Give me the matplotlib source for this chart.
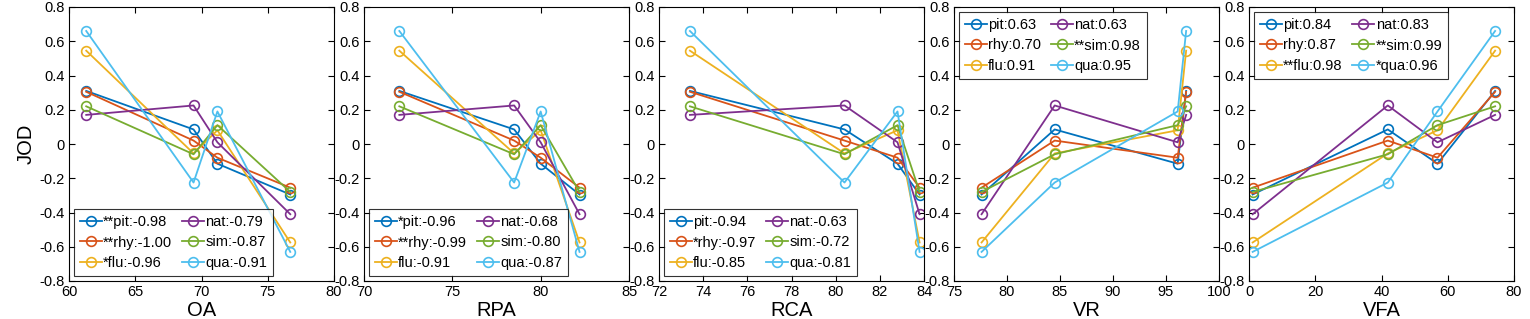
import matplotlib
matplotlib.use("Agg")
import matplotlib.pyplot as plt

plt.rcParams["font.family"] = ["Liberation Sans", "DejaVu Sans"]
plt.rcParams["axes.unicode_minus"] = False

# JOD score of each method (A, B, C, D) for every attribute
attributes = ["pit", "rhy", "flu", "nat", "sim", "qua"]
colours = ["#0072BD", "#D95319", "#EDB120", "#7E2F8E", "#77AC30", "#4DBEEE"]
jod_pit = [0.31, 0.085, -0.115, -0.295]
jod_rhy = [0.305, 0.02, -0.08, -0.255]
jod_flu = [0.545, -0.055, 0.08, -0.575]
jod_nat = [0.17, 0.225, 0.01, -0.41]
jod_sim = [0.22, -0.06, 0.11, -0.28]
jod_qua = [0.66, -0.225, 0.19, -0.63]
jod = [jod_pit, jod_rhy, jod_flu, jod_nat, jod_sim, jod_qua]

# objective metric of each method
metrics = ["OA", "RPA", "RCA", "VR", "VFA"]
x_oa = [61.3, 69.4, 71.2, 76.7]
x_rpa = [72.0, 78.5, 80.0, 82.2]
x_rca = [73.4, 80.4, 82.8, 83.8]
x_vr = [96.9, 84.5, 96.1, 77.6]
x_vfa = [74.3, 41.9, 56.9, 1.1]
metric_x = [x_oa, x_rpa, x_rca, x_vr, x_vfa]

# legend text per panel (significance stars + correlation)
labels_oa = ["**pit:-0.98", "**rhy:-1.00", "*flu:-0.96", "nat:-0.79", "sim:-0.87", "qua:-0.91"]
labels_rpa = ["*pit:-0.96", "**rhy:-0.99", "flu:-0.91", "nat:-0.68", "sim:-0.80", "qua:-0.87"]
labels_rca = ["pit:-0.94", "*rhy:-0.97", "flu:-0.85", "nat:-0.63", "sim:-0.72", "qua:-0.81"]
labels_vr = ["pit:0.63", "rhy:0.70", "flu:0.91", "nat:0.63", "**sim:0.98", "qua:0.95"]
labels_vfa = ["pit:0.84", "rhy:0.87", "**flu:0.98", "nat:0.83", "**sim:0.99", "*qua:0.96"]
panel_labels = [labels_oa, labels_rpa, labels_rca, labels_vr, labels_vfa]

xlims = [(60, 80), (70, 85), (72, 84), (75, 100), (0, 80)]
xticks = [[60, 65, 70, 75, 80], [70, 75, 80, 85], [72, 74, 76, 78, 80, 82, 84],
          [75, 80, 85, 90, 95, 100], [0, 20, 40, 60, 80]]
legend_loc = ["lower left", "lower left", "lower left", "upper left", "upper left"]
yticks = [-0.8, -0.6, -0.4, -0.2, 0, 0.2, 0.4, 0.6, 0.8]
ytick_labels = ["-0.8", "-0.6", "-0.4", "-0.2", "0", "0.2", "0.4", "0.6", "0.8"]

W, H = 1530, 319
fig = plt.figure(figsize=(W / 100, H / 100), dpi=100)
lefts = [69, 364, 659, 954, 1249]
ax_w, ax_top, ax_bot = 265, 7, 281

for i, metric in enumerate(metrics):
    ax = fig.add_axes([lefts[i] / W, 1 - ax_bot / H, ax_w / W, (ax_bot - ax_top) / H])
    xs = metric_x[i]
    order = sorted(range(len(xs)), key=lambda k: xs[k])
    for vals, col, lab in zip(jod, colours, panel_labels[i]):
        ax.plot([xs[k] for k in order], [vals[k] for k in order], color=col,
                linewidth=1.3, marker="o", markersize=7, markerfacecolor="none",
                markeredgewidth=1.2, label=lab)
    ax.set_xlim(*xlims[i])
    ax.set_ylim(-0.8, 0.8)
    ax.set_xticks(xticks[i])
    ax.set_yticks(yticks)
    ax.set_yticklabels(ytick_labels)
    ax.tick_params(direction="in", top=True, right=True, labelsize=10.5, length=4, pad=3)
    ax.set_xlabel(metric, fontsize=14.5, labelpad=1)
    if i == 0:
        ax.set_ylabel("JOD", fontsize=14.5, labelpad=3)
    leg = ax.legend(loc=legend_loc[i], ncol=2, fontsize=10.5, frameon=True, fancybox=False,
                    handlelength=1.5, handletextpad=0.1, columnspacing=0.65,
                    labelspacing=0.45, borderpad=0.4, borderaxespad=0.35)
    leg.get_frame().set_edgecolor("black")
    leg.get_frame().set_linewidth(0.8)

fig.savefig("out.png", dpi=100)
